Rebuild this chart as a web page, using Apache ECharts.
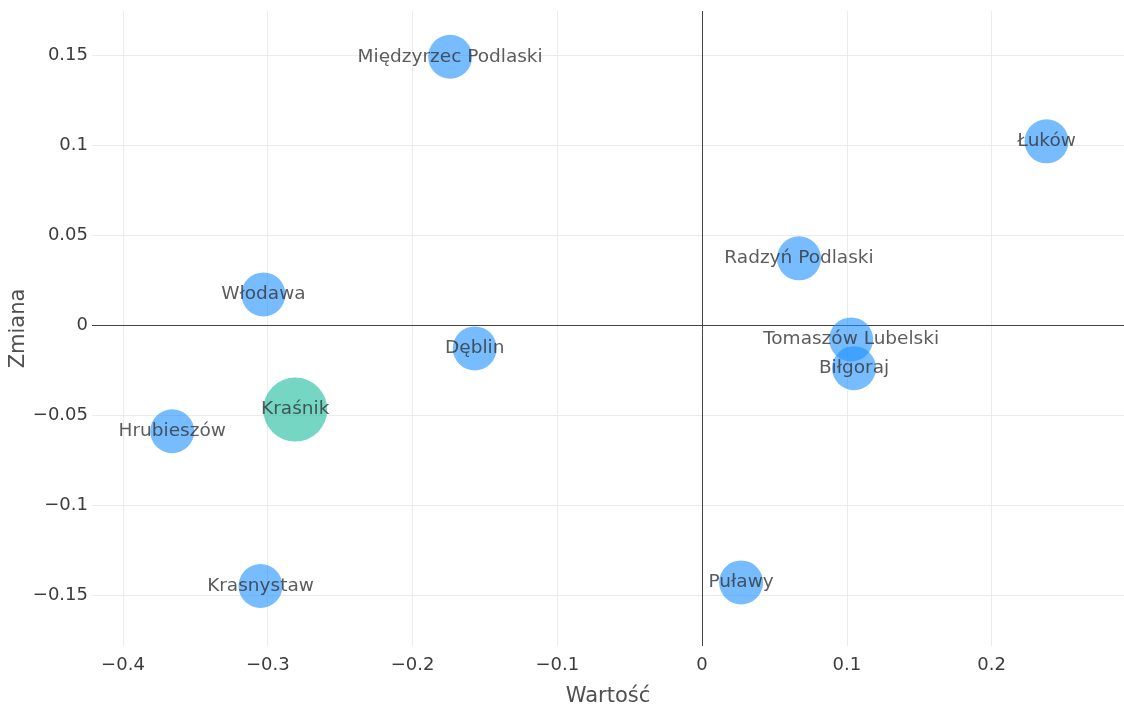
<!DOCTYPE html>
<html>
<head>
<meta charset="utf-8">
<script src="https://cdn.jsdelivr.net/npm/echarts@6/dist/echarts.min.js"></script>
<style>
  html, body { margin: 0; padding: 0; background: #fff; }
  #chart { width: 1124px; height: 713px; }
</style>
</head>
<body>
<div id="chart"></div>
<script>
// Powiaty: wartość vs zmiana
const cities = ['Międzyrzec Podlaski', 'Łuków', 'Radzyń Podlaski', 'Włodawa', 'Dęblin',
  'Tomaszów Lubelski', 'Biłgoraj', 'Kraśnik', 'Hrubieszów', 'Krasnystaw', 'Puławy'];
const wartosc = [-0.174, 0.238, 0.067, -0.303, -0.157, 0.103, 0.105, -0.281, -0.366, -0.305, 0.027];
const zmiana = [0.149, 0.102, 0.037, 0.017, -0.013, -0.008, -0.024, -0.047, -0.059, -0.145, -0.143];
const selectedCity = 'Kraśnik';

const xTicks = [-0.4, -0.3, -0.2, -0.1, 0, 0.1, 0.2];
const yTicks = [-0.15, -0.1, -0.05, 0, 0.05, 0.1, 0.15];

const FONT = '"DejaVu Sans", Verdana, sans-serif';
const fmt = v => (v < 0 ? '\u2212' + String(-v) : String(v));

const points = cities.map((name, i) => {
  const sel = name === selectedCity;
  return {
    name,
    value: [wartosc[i], zmiana[i]],
    symbolSize: sel ? 64 : 44,
    itemStyle: { color: sel ? 'rgba(26,188,156,0.76)' : 'rgba(30,144,255,0.76)' }
  };
});

const chart = echarts.init(document.getElementById('chart'), null, { renderer: 'canvas' });
chart.setOption({
  animation: false,
  backgroundColor: '#fff',
  textStyle: { fontFamily: FONT },
  grid: { left: 92, right: 0, top: 11, bottom: 67, containLabel: false, outerBoundsMode: 'none' },
  xAxis: {
    type: 'value',
    min: -0.4214,
    max: 0.2915,
    name: 'Wartość',
    nameLocation: 'middle',
    nameGap: 40,
    nameMoveOverlap: false,
    nameTextStyle: { fontSize: 21, color: '#505050', fontFamily: FONT },
    axisLine: { show: false },
    axisTick: { show: false, customValues: xTicks },
    axisLabel: {
      customValues: xTicks,
      formatter: fmt,
      fontSize: 18, color: '#3c3c3c', margin: 10,
      fontFamily: FONT
    },
    splitLine: { show: true, lineStyle: { color: '#ebebeb', width: 1 } }
  },
  yAxis: {
    type: 'value',
    min: -0.1783,
    max: 0.1744,
    name: 'Zmiana',
    nameLocation: 'middle',
    nameGap: 63,
    nameMoveOverlap: false,
    nameRotate: 90,
    nameTextStyle: { fontSize: 21, color: '#505050', fontFamily: FONT },
    axisLine: { show: false },
    axisTick: { show: false, customValues: yTicks },
    axisLabel: {
      customValues: yTicks,
      formatter: fmt,
      fontSize: 18, color: '#3c3c3c', margin: 4,
      fontFamily: FONT
    },
    splitLine: { show: true, lineStyle: { color: '#ebebeb', width: 1 } }
  },
  series: [{
    type: 'scatter',
    data: points,
    label: {
      show: true,
      position: 'inside',
      formatter: p => p.name,
      fontSize: 18.5,
      color: '#333',
      fontFamily: FONT
    },
    markLine: {
      silent: true,
      symbol: 'none',
      label: { show: false },
      lineStyle: { color: '#444', width: 1, type: 'solid' },
      data: [{ xAxis: 0 }, { yAxis: 0 }],
      z: 1
    },
    z: 3
  }]
});
</script>
</body>
</html>
